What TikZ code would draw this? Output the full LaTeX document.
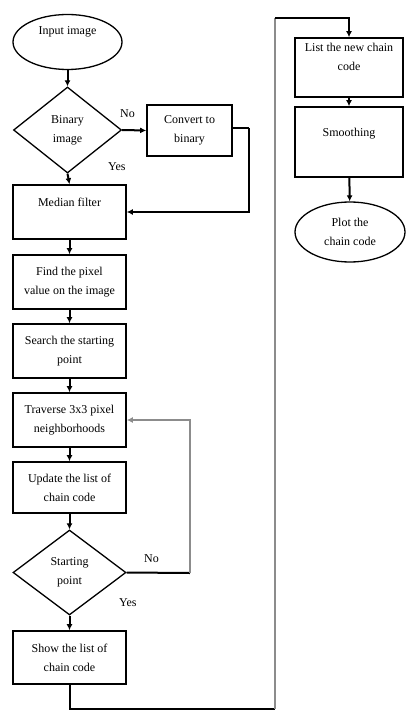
\documentclass[tikz,border=0pt]{standalone}
\usepackage{fontspec}
\setmainfont{Liberation Serif}
\usetikzlibrary{shapes.geometric,arrows.meta}
\begin{document}
\begin{tikzpicture}[x=1pt,y=-1pt,
  every node/.style={font=\fontsize{12}{19}\selectfont},
  box/.style={draw,line width=1.6pt,rectangle,inner sep=0pt,align=center},
  oval/.style={draw,line width=1.3pt,ellipse,inner sep=0pt,align=center},
  dec/.style={draw,line width=1.3pt,diamond,inner sep=0pt,align=center},
  arr/.style={line width=2pt,-{Latex[length=6pt,width=6pt]}},
  ln/.style={line width=2pt},
  garr/.style={line width=2pt,draw=black!45,-{Latex[length=6pt,width=6pt]}},
  gln/.style={line width=1.6pt,draw=black!45},
  lab/.style={inner sep=0pt}]
\useasboundingbox (0,0) rectangle (412,711);
% left column
\node[oval,minimum width=109pt,minimum height=55pt] (in) at (67.5,42) {Input image\\[4pt]\mbox{}};
\node[dec,minimum width=108pt,minimum height=86pt] (bin) at (67.5,130) {Binary\\image};
\node[box,minimum width=85pt,minimum height=51pt] (conv) at (189.5,130.5) {Convert to\\binary};
\node[box,minimum width=113pt,minimum height=54pt] (med) at (69.5,212) {Median filter\\\mbox{}};
\node[box,minimum width=113pt,minimum height=54pt] (find) at (69.5,282) {Find the pixel\\value on the image};
\node[box,minimum width=113pt,minimum height=54pt] (search) at (69.5,351) {Search the starting\\point};
\node[box,minimum width=113pt,minimum height=54pt] (trav) at (69.5,420) {Traverse 3x3 pixel\\neighborhoods};
\node[box,minimum width=113pt,minimum height=51pt] (upd) at (69.5,487.5) {Update the list of\\chain code};
\node[dec,minimum width=113pt,minimum height=85pt] (start) at (69.5,572.5) {Starting\\point};
\node[box,minimum width=113pt,minimum height=53pt] (show) at (69.5,657.5) {Show the list of\\chain code};
% right column
\node[box,minimum width=108pt,minimum height=59pt] (list) at (349,67.5) {List the new chain\\code\\[2pt]\mbox{}};
\node[box,minimum width=108pt,minimum height=70pt] (smooth) at (349,142) {Smoothing\\\mbox{}};
\node[oval,minimum width=110pt,minimum height=60pt] (plot) at (350,232) {Plot the\\chain code};
% labels
\node[lab,anchor=west] (no1) at (120,114) {No};
\node[lab,anchor=west] (yes1) at (108,167) {Yes};
\node[lab,anchor=west] (no2) at (144,559) {No};
\node[lab,anchor=west] (yes2) at (119,603) {Yes};
% corner coordinates
\coordinate (c1) at (249,128);
\coordinate (c2) at (249,212);
\coordinate (c3) at (190,573);
\coordinate (c4) at (190,420);
\coordinate (c5) at (69.5,709);
\coordinate (c6) at (275,709);
\coordinate (c7) at (275,18);
\coordinate (c8) at (349,18);
% connectors
\draw[arr] (in) -- (bin);
\draw[arr] (bin.east) -- (conv.west);
\draw[arr] (bin.south) -- (med.north);
\draw[ln] (conv.east |- c1) -- (c1);
\draw[arr] (c1) -- (c2) -- (med.east);
\draw[arr] (med) -- (find);
\draw[arr] (find) -- (search);
\draw[arr] (search) -- (trav);
\draw[arr] (trav) -- (upd);
\draw[arr] (upd) -- (start);
\draw[arr] (start.south) -- (show.north);
\draw[ln] (start.east) -- (c3);
\draw[garr] (c3) -- (c4) -- (trav.east);
\draw[ln] (show.south) -- (c5) -- (c6);
\draw[gln] (c6) -- (c7);
\draw[arr] (c7) -- (c8) -- (list.north);
\draw[arr] (list) -- (smooth);
\draw[arr] (smooth) -- (plot);
\end{tikzpicture}
\end{document}
